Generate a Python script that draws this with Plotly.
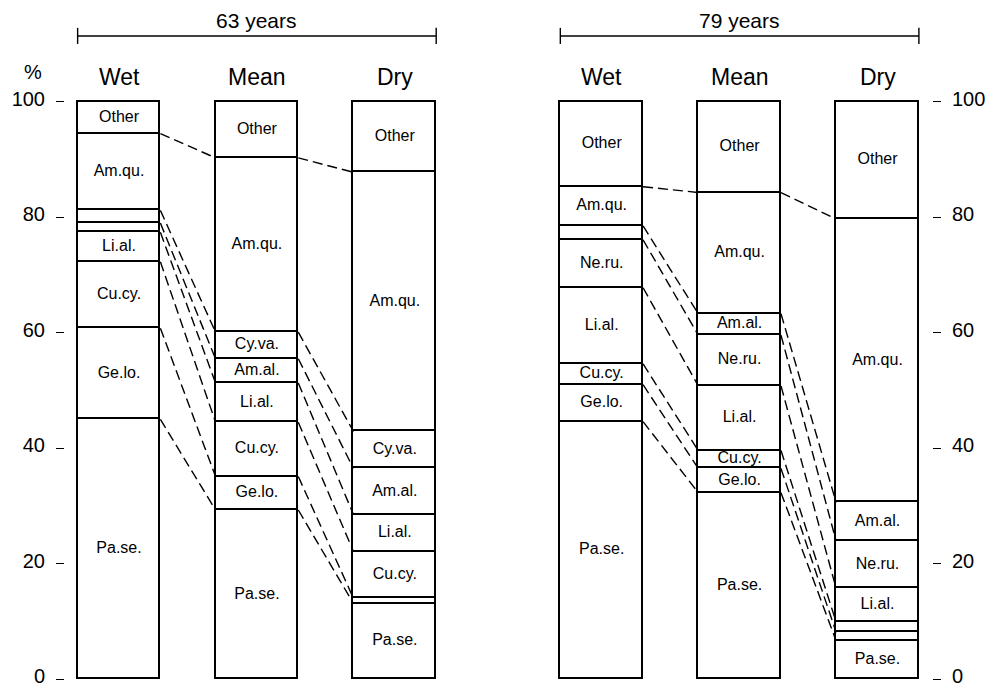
import plotly.graph_objects as go
import numpy as np

columns = ["Wet", "Mean", "Dry"]
left_title = "63 years"
right_title = "79 years"
left_species = ["Pa.se.", "Ge.lo.", "Cu.cy.", "Li.al.", "Am.al.", "Cy.va.", "Am.qu.", "Other"]
left_wet = [45.0, 15.8, 11.5, 5.1, 1.6, 2.2, 13.3, 5.5]
left_mean = [29.3, 5.8, 9.4, 6.8, 4.2, 4.6, 30.2, 9.7]
left_dry = [13.1, 0.9, 8.1, 6.4, 8.0, 6.4, 44.9, 12.2]
right_species = ["Pa.se.", "Ge.lo.", "Cu.cy.", "Li.al.", "Ne.ru.", "Am.al.", "Am.qu.", "Other"]
right_wet = [44.6, 6.4, 3.6, 13.2, 8.3, 2.4, 6.8, 14.7]
right_mean = [32.3, 4.2, 3.1, 11.2, 8.8, 3.7, 21.0, 15.7]
right_dry = [6.6, 1.5, 1.8, 5.8, 8.2, 6.7, 49.1, 20.3]
tick_values = [0, 20, 40, 60, 80, 100]

FONT = "Liberation Sans, Arial, sans-serif"
BW = 0.6
fig = go.Figure()

panels = [
    (left_species, [left_wet, left_mean, left_dry], [0.0, 1.0, 2.0], "y"),
    (right_species, [right_wet, right_mean, right_dry], [3.5, 4.5, 5.5], "y2"),
]

for species, data, xs, yax in panels:
    for k, sp in enumerate(species):
        fig.add_trace(go.Bar(
            x=xs, y=[col[k] for col in data], width=BW,
            marker=dict(color="white", line=dict(color="black", width=1.8)),
            yaxis=yax, showlegend=False, hoverinfo="skip",
        ))
    cums = [np.cumsum(col) for col in data]
    # dashed connectors between matching boundaries
    lx, ly = [], []
    for c in range(len(data) - 1):
        for j in range(len(species) - 1):
            lx += [xs[c] + BW / 2, xs[c + 1] - BW / 2, None]
            ly += [cums[c][j], cums[c + 1][j], None]
    fig.add_trace(go.Scatter(
        x=lx, y=ly, mode="lines", yaxis=yax,
        line=dict(color="black", width=1.4, dash="10px,5px"),
        showlegend=False, hoverinfo="skip",
    ))
    # labels
    tx, ty, tt = [], [], []
    for c, col in enumerate(data):
        lower = 0.0
        for k, v in enumerate(col):
            if v >= 2.8:
                tx.append(xs[c]); ty.append(lower + v / 2); tt.append(species[k])
            lower += v
    fig.add_trace(go.Scatter(
        x=tx, y=ty, text=tt, mode="text", yaxis=yax,
        textfont=dict(family=FONT, size=16, color="black"),
        showlegend=False, hoverinfo="skip",
    ))

annotations = []
shapes = []
for species, data, xs, yax in panels:
    for name, x in zip(columns, xs):
        annotations.append(dict(x=x, y=1.0377, xref="x", yref="paper", text=name,
                                showarrow=False, font=dict(family=FONT, size=23, color="black"),
                                xanchor="center", yanchor="middle"))
for title, xs in [(left_title, [0.0, 1.0, 2.0]), (right_title, [3.5, 4.5, 5.5])]:
    x0, x1 = xs[0] - BW / 2, xs[-1] + BW / 2
    annotations.append(dict(x=(x0 + x1) / 2, y=1.1355, xref="x", yref="paper", text=title,
                            showarrow=False, font=dict(family=FONT, size=21, color="black"),
                            xanchor="center", yanchor="middle"))
    shapes.append(dict(type="line", xref="x", yref="paper", x0=x0, x1=x1, y0=1.108, y1=1.108,
                       line=dict(color="black", width=1.4)))
    for xe in (x0, x1):
        shapes.append(dict(type="line", xref="x", yref="paper", x0=xe, x1=xe, y0=1.0945, y1=1.122,
                           line=dict(color="black", width=1.4)))

annotations.append(dict(x=-0.037, y=1.046, xref="paper", yref="paper", text="%",
                        showarrow=False, font=dict(family=FONT, size=20, color="black"),
                        xanchor="center", yanchor="middle"))

yax_common = dict(range=[-0.5, 100.5], tickvals=tick_values, ticks="outside", ticklen=8,
                  tickwidth=1.4, tickcolor="black", showgrid=False, zeroline=False,
                  showline=False, ticklabeloverflow="allow", automargin=False,
                  ticklabelstandoff=7, ticklabelshift=-3,
                  tickfont=dict(family=FONT, size=20, color="black"))

fig.update_layout(
    width=993, height=680,
    margin=dict(l=57, r=69, t=91, b=6, autoexpand=False),
    paper_bgcolor="white", plot_bgcolor="white",
    barmode="stack", bargap=0,
    xaxis=dict(range=[-0.3916, 5.895], visible=False, automargin=False),
    yaxis=dict(**yax_common),
    yaxis2=dict(**yax_common, overlaying="y", side="right"),
    annotations=annotations, shapes=shapes,
    showlegend=False,
)

fig.write_html("out.html")
